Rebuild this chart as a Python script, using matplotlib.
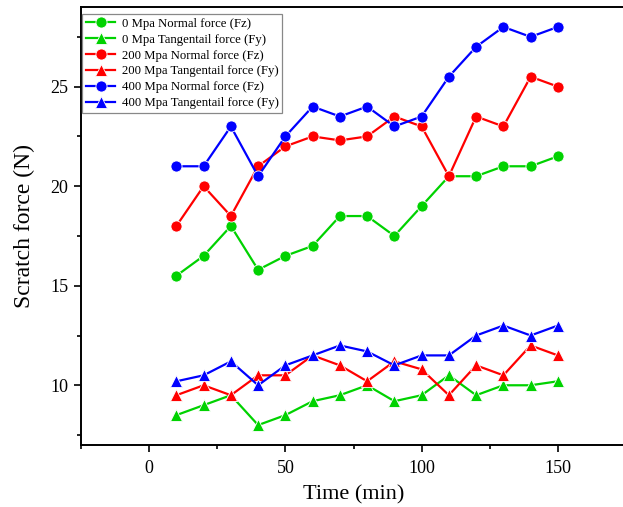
import matplotlib
matplotlib.use("Agg")
import matplotlib.pyplot as plt
from matplotlib.ticker import MultipleLocator

plt.rcParams['font.family'] = ['Liberation Serif', 'DejaVu Serif']

time_min = [10, 20, 30, 40, 50, 60, 70, 80, 90, 100, 110, 120, 130, 140, 150]

fz_0 = [15.5, 16.5, 18.0, 15.8, 16.5, 17.0, 18.5, 18.5, 17.5, 19.0, 20.5, 20.5, 21.0, 21.0, 21.5]
fy_0 = [8.5, 9.0, 9.5, 8.0, 8.5, 9.2, 9.5, 10.0, 9.2, 9.5, 10.5, 9.5, 10.0, 10.0, 10.2]
fz_200 = [18.0, 20.0, 18.5, 21.0, 22.0, 22.5, 22.3, 22.5, 23.5, 23.0, 20.5, 23.5, 23.0, 25.5, 25.0]
fy_200 = [9.5, 10.0, 9.5, 10.5, 10.5, 11.5, 11.0, 10.2, 11.2, 10.8, 9.5, 11.0, 10.5, 12.0, 11.5]
fz_400 = [21.0, 21.0, 23.0, 20.5, 22.5, 24.0, 23.5, 24.0, 23.0, 23.5, 25.5, 27.0, 28.0, 27.5, 28.0]
fy_400 = [10.2, 10.5, 11.2, 10.0, 11.0, 11.5, 12.0, 11.7, 11.0, 11.5, 11.5, 12.5, 13.0, 12.5, 13.0]

labels = [
    "0 Mpa Normal force (Fz)",
    "0 Mpa Tangentail force (Fy)",
    "200 Mpa Normal force (Fz)",
    "200 Mpa Tangentail force (Fy)",
    "400 Mpa Normal force (Fz)",
    "400 Mpa Tangentail force (Fy)",
]

green = "#00D200"
red = "#FF0000"
blue = "#0000FF"

series = [
    (fz_0, green, "o"),
    (fy_0, green, "^"),
    (fz_200, red, "o"),
    (fy_200, red, "^"),
    (fz_400, blue, "o"),
    (fy_400, blue, "^"),
]

fig = plt.figure(figsize=(6.23, 5.07), dpi=100)
ax = fig.add_axes([81 / 623, 62 / 507, (626 - 81) / 623, (500 - 62) / 507])

for (vals, col, mk), lab in zip(series, labels):
    ms = 8.0 if mk == "o" else 9.0
    ax.plot(time_min, vals, color=col, marker=mk, markersize=ms,
            markeredgecolor="white", markeredgewidth=0.6,
            linewidth=1.6, label=lab)

ax.set_xlim(-25, 175)
ax.set_ylim(7, 29)
ax.xaxis.set_major_locator(MultipleLocator(50))
ax.xaxis.set_minor_locator(MultipleLocator(25))
ax.yaxis.set_major_locator(MultipleLocator(5))
ax.yaxis.set_minor_locator(MultipleLocator(2.5))

ax.tick_params(which="major", direction="out", length=5, width=1.2,
               labelsize=13, top=False, right=False, pad=4)
ax.tick_params(axis="x", which="major", pad=6)
ax.tick_params(which="minor", direction="out", length=3, width=1.2,
               top=False, right=False)
for sp in ax.spines.values():
    sp.set_linewidth(1.4)

ax.set_xlabel("Time (min)", fontsize=16, labelpad=6)
ax.set_ylabel("Scratch force (N)", fontsize=17, labelpad=11)

leg = ax.legend(loc="upper left", bbox_to_anchor=(82 / 623, 1 - 14 / 507),
                bbox_transform=fig.transFigure, borderaxespad=0,
                fontsize=9.2, frameon=True, fancybox=False,
                edgecolor="#888888", framealpha=1, handlelength=2.3,
                handletextpad=0.5, labelspacing=0.3, borderpad=0.3,
                markerscale=1.0)
leg.get_frame().set_linewidth(0.9)

fig.savefig("out.png", dpi=100)
